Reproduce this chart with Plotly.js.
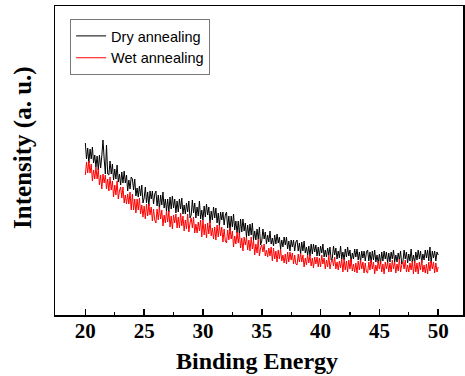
<!DOCTYPE html>
<html>
<head>
<meta charset="utf-8">
<script src="https://cdn.plot.ly/plotly-3.0.1.min.js"></script>
<style>html,body{margin:0;padding:0;background:#fff;}#chart{width:465px;height:376px;}</style>
</head>
<body>
<div id="chart"></div>
<script>
// Binding energy grid: starts at 20, step 0.1 (301 points)
const energyStart = 20;
const energyStep = 0.1;

const seriesNames = ["Dry annealing", "Wet annealing"];

// Dry annealing intensity (a.u.)
const dryIntensity = [
172,156,167,152,166,156,168,152,160,148,
159,145,160,147,159,175,156,141,170,141,
140,154,141,151,135,146,136,150,133,141,
130,143,132,144,132,140,124,135,126,138,
136,125,136,119,127,118,129,119,130,112,
117,128,112,123,109,124,116,124,111,121,
124,109,120,106,120,110,123,107,116,104,
116,103,118,106,119,107,116,102,114,103,
116,106,117,101,110,101,112,103,114,97,
100,115,102,112,97,108,99,114,96,105,
95,109,98,111,100,108,92,104,95,108,
97,107,92,102,89,103,95,103,90,100,
103,87,99,84,99,88,101,85,94,82,
94,80,96,83,96,84,92,78,90,79,
91,80,92,75,84,75,86,76,88,70,
74,86,76,83,71,80,73,84,71,77,
69,80,71,81,72,78,66,75,68,78,
70,78,66,74,64,75,68,75,64,73,
75,64,72,61,73,64,74,62,68,60,
69,59,71,61,71,63,70,59,68,59,
69,62,71,58,65,58,67,60,68,55,
57,69,60,67,56,64,57,69,56,63,
55,66,58,68,59,65,53,62,56,66,
58,66,55,63,53,64,57,64,54,63,
65,54,63,52,64,55,65,53,60,52,
61,51,63,54,64,56,63,52,62,53,
63,56,65,53,60,53,62,55,64,51,
53,65,56,63,52,61,54,66,53,60,
52,63,55,65,56,64,52,61,55,65,
57,65,54,68,52,64,57,64,54,63,
60];

// Wet annealing intensity (a.u.)
const wetIntensity = [
140,153,142,154,142,151,134,145,136,148,
136,146,130,140,126,141,132,140,126,136,
124,138,125,134,118,130,120,134,116,124,
128,117,128,112,120,111,121,111,123,105,
121,105,116,102,116,105,117,101,110,98,
109,96,111,99,111,100,108,94,106,95,
92,106,95,108,96,105,89,100,92,104,
93,104,88,99,86,100,92,101,87,98,
87,102,89,99,84,95,86,101,83,92,
97,87,98,82,91,82,93,84,95,78,
95,80,91,77,92,81,94,79,87,76,
88,75,90,78,90,79,88,73,86,74,
72,85,75,87,76,84,68,79,71,83,
72,82,67,77,64,78,70,78,65,75,
64,78,66,75,60,71,62,76,59,67,
70,63,71,59,65,58,67,59,68,54,
67,56,64,53,65,56,66,54,60,52,
61,51,63,53,63,55,62,51,60,51,
50,61,53,62,53,60,48,57,50,60,
52,60,49,57,47,58,51,58,48,57,
48,60,51,57,46,55,48,60,46,53,
56,49,58,46,53,45,54,47,56,43,
56,45,54,43,55,46,56,44,51,43,
52,42,54,45,55,46,53,42,52,43,
42,53,45,55,46,53,41,50,44,54,
46,54,43,51,41,53,46,53,43,52,
43,55,46,53,42,51,44,56,43,50,
53,46,55,43,50,43,52,45,54,41,
54,43,52,41,53,45,55,43,50,42,
51,41,53,44,54,46,53,42,52,43,
48];

const xTickVals = [20, 25, 30, 35, 40, 45, 50];
const xTitle = "Binding Energy";
const yTitle = "Intensity (a. u.)";

const serif = "'Liberation Serif', 'Times New Roman', serif";

const traces = [
  {x0: energyStart, dx: energyStep, y: dryIntensity, type: "scatter", mode: "lines",
   name: seriesNames[0], line: {color: "#000000", width: 1, simplify: false}},
  {x0: energyStart, dx: energyStep, y: wetIntensity, type: "scatter", mode: "lines",
   name: seriesNames[1], line: {color: "#ff0000", width: 1, simplify: false}}
];

const layout = {
  width: 465, height: 376,
  margin: {l: 55, r: 2, t: 6, b: 61},
  paper_bgcolor: "#ffffff", plot_bgcolor: "#ffffff",
  showlegend: true,
  legend: {x: 0.037, y: 0.958, xanchor: "left", yanchor: "top",
    bgcolor: "#ffffff", bordercolor: "#777777", borderwidth: 1,
    font: {family: "'Liberation Sans', Arial, sans-serif", size: 14.5, color: "#000"},
    tracegroupgap: 0},
  xaxis: {range: [17.42, 52.11], tickvals: xTickVals,
    ticktext: xTickVals.map(String),
    ticks: "inside", ticklen: 6, tickwidth: 1.5, tickcolor: "#000",
    ticklabelstandoff: -4,
    minor: {dtick: 2.5, tick0: 17.5, ticks: "inside", ticklen: 3, tickwidth: 1.2, tickcolor: "#000"},
    showline: true, mirror: true, linecolor: "#000", linewidth: 1.5,
    showgrid: false, zeroline: false,
    tickfont: {family: serif, size: 21, color: "#000", weight: 700}},
  yaxis: {range: [0, 309], showticklabels: false, ticks: "",
    showline: true, mirror: true, linecolor: "#000", linewidth: 1.5,
    showgrid: false, zeroline: false},
  annotations: [
    {text: "<b>" + xTitle + "</b>", xref: "paper", yref: "paper", x: 0.496, y: -0.148,
     xanchor: "center", yanchor: "middle", showarrow: false,
     font: {family: serif, size: 24, color: "#000"}},
    {text: "<b>" + yTitle + "</b>", xref: "paper", yref: "paper", x: -0.0785, y: 0.544,
     xanchor: "center", yanchor: "middle", showarrow: false, textangle: -90,
     font: {family: serif, size: 25, color: "#000"}}
  ]
};

Plotly.newPlot("chart", traces, layout, {displayModeBar: false, staticPlot: true});
</script>
</body>
</html>
